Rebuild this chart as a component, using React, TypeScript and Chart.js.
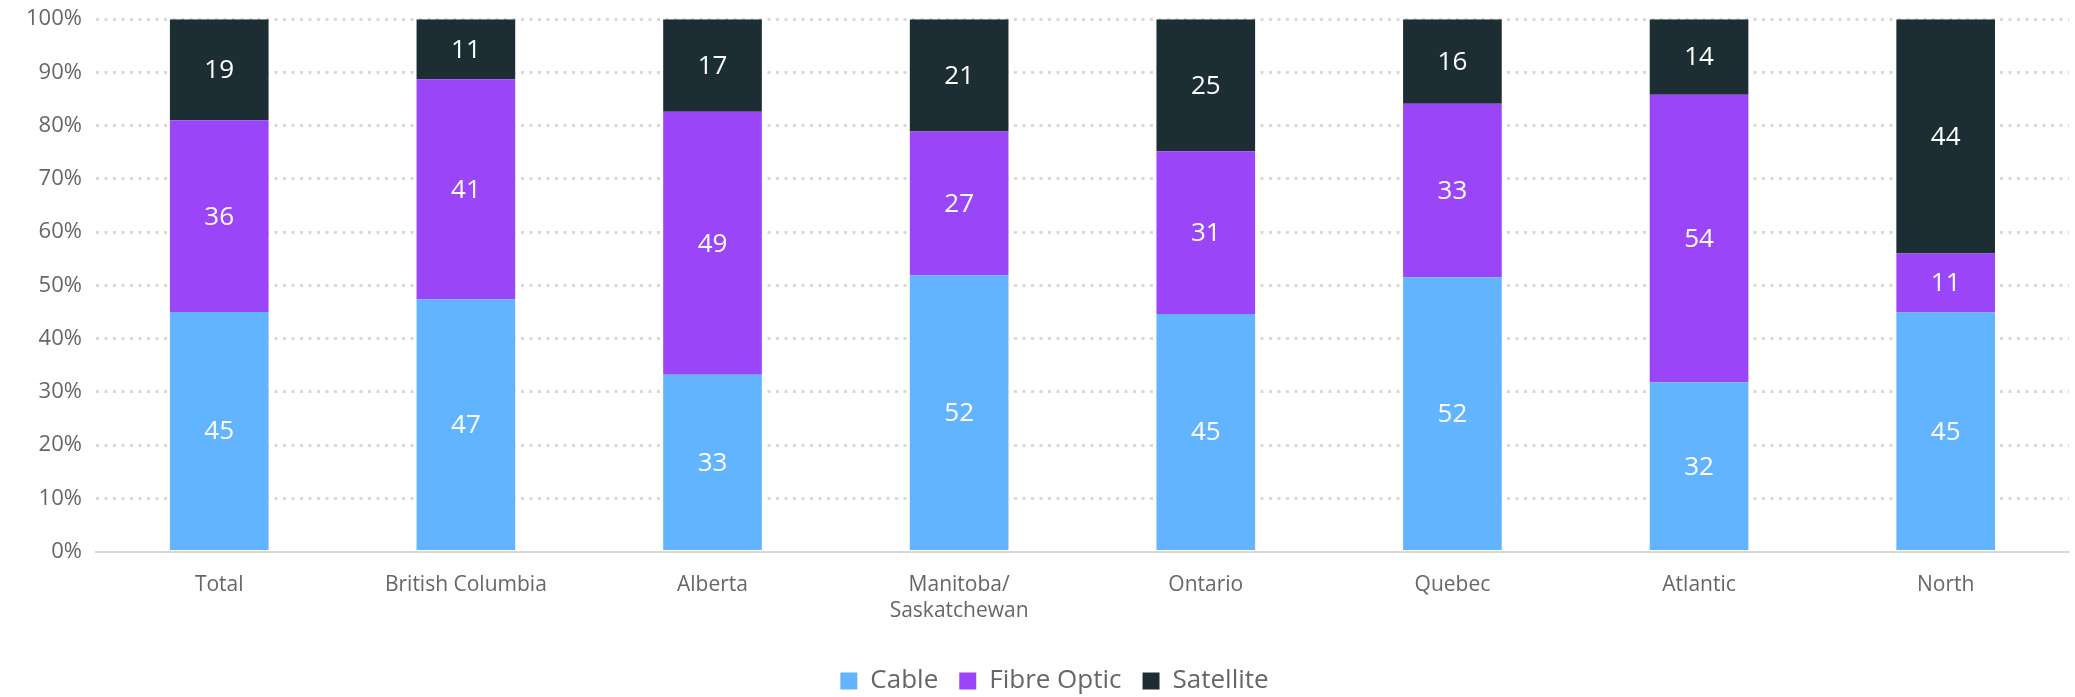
import React, { useEffect, useRef } from "react";
import { Chart, registerables } from "chart.js";

Chart.register(...registerables);

const categories: (string | string[])[] = [
  "Total",
  "British Columbia",
  "Alberta",
  ["Manitoba/", "Saskatchewan"],
  "Ontario",
  "Quebec",
  "Atlantic",
  "North",
];
const cable = [45.0, 47.4, 33.2, 51.9, 44.6, 51.5, 31.8, 44.9];
const fibreOptic = [36.0, 41.3, 49.4, 27.0, 30.6, 32.6, 54.0, 11.1];
const satellite = [19.0, 11.3, 17.4, 21.1, 24.8, 15.9, 14.2, 44.0];
const yTicks = [0, 10, 20, 30, 40, 50, 60, 70, 80, 90, 100];

const FONT = "'Open Sans', Lato, sans-serif";
const TEXT = "#666666";

const barLabels = {
  id: "barLabels",
  afterDatasetsDraw(chart: any) {
    const ctx = chart.ctx;
    ctx.save();
    ctx.fillStyle = "#ffffff";
    ctx.font = `26px ${FONT}`;
    ctx.textAlign = "center";
    ctx.textBaseline = "middle";
    chart.data.datasets.forEach((ds: any, i: number) => {
      const meta = chart.getDatasetMeta(i);
      meta.data.forEach((bar: any, j: number) => {
        const v = ds.data[j];
        const { x, y, base } = bar.getProps(["x", "y", "base"], true);
        ctx.fillText(String(Math.round(v)), x, (y + base) / 2 + 1);
      });
    });
    ctx.restore();
  },
};

const legendShift = {
  id: "legendShift",
  afterLayout(chart: any) {
    if (chart.legend) {
      chart.legend.left += 14;
      chart.legend.right += 14;
    }
  },
};

export default function App() {
  const ref = useRef<HTMLCanvasElement | null>(null);
  useEffect(() => {
    document.body.style.margin = "0";
    document.body.style.overflow = "hidden";
    const chart = new Chart(ref.current as HTMLCanvasElement, {
      type: "bar",
      data: {
        labels: categories,
        datasets: [
          { label: "Cable", data: cable, backgroundColor: "#62B4FF" },
          { label: "Fibre Optic", data: fibreOptic, backgroundColor: "#9B45F8" },
          { label: "Satellite", data: satellite, backgroundColor: "#1C2E33" },
        ],
      },
      options: {
        animation: false,
        responsive: true,
        maintainAspectRatio: false,
        layout: { padding: { top: 0, right: 6, left: 12, bottom: 0 } },
        datasets: { bar: { categoryPercentage: 0.8, barPercentage: 0.5 } },
        scales: {
          x: {
            stacked: true,
            grid: { display: false },
            border: { display: true, color: "#D9D9D9", width: 2 },
            ticks: {
              color: TEXT,
              font: { family: FONT, size: 21, lineHeight: 1.25 },
              padding: 12,
              maxRotation: 0,
              autoSkip: false,
            },
            afterFit: (scale: any) => {
              scale.height += 11;
            },
          },
          y: {
            stacked: true,
            min: 0,
            max: 100,
            afterBuildTicks: (scale: any) => {
              scale.ticks = yTicks.map((v) => ({ value: v }));
            },
            border: { display: false, dash: [3, 5.5] },
            grid: {
              color: (c: any) => (c.tick && c.tick.value === 0 ? "rgba(0,0,0,0)" : "#D9D9D9"),
              lineWidth: 3,
              drawTicks: false,
            },
            ticks: {
              color: TEXT,
              font: { family: FONT, size: 22 },
              padding: 14,
              callback: (v: any) => `${v}%`,
            },
          },
        },
        plugins: {
          legend: {
            position: "bottom",
            labels: {
              color: TEXT,
              font: { family: FONT, size: 26 },
              boxWidth: 17,
              boxHeight: 17,
              padding: 21,
            },
          },
          tooltip: { enabled: false },
        },
      },
      plugins: [barLabels, legendShift],
    } as any);
    return () => chart.destroy();
  }, []);
  return (
    <div style={{ width: "2075px", height: "697px", overflow: "hidden", position: "relative" }}>
      <div style={{ position: "absolute", left: 0, top: "-8px", width: "2075px", height: "712px" }}>
        <canvas ref={ref} />
      </div>
    </div>
  );
}
